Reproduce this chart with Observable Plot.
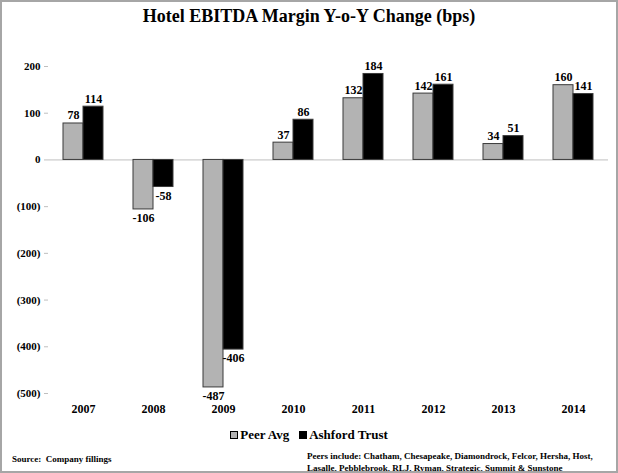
<!DOCTYPE html>
<html><head><meta charset="utf-8">
<script src="https://cdn.jsdelivr.net/npm/d3@7"></script>
<script src="https://cdn.jsdelivr.net/npm/@observablehq/plot@0.6"></script>
<style>
body{margin:0;background:#fff;}
#wrap{position:relative;width:618px;height:473px;overflow:hidden;font-family:"Liberation Serif","Times New Roman",serif;font-weight:bold;color:#000;}
#border{position:absolute;left:0;top:0;width:618px;height:473px;box-sizing:border-box;border:2px solid #a6a6a6;pointer-events:none;}
#title{position:absolute;top:6px;left:0;width:618px;text-align:center;font-size:18px;}
#chart{position:absolute;top:40px;left:0;}
#legend{position:absolute;top:427px;left:0;width:618px;text-align:center;font-size:13px;}
.sw{display:inline-block;width:8px;height:8px;box-sizing:border-box;margin-right:2px;vertical-align:0px;}
#source{position:absolute;left:12px;top:454px;font-size:9px;}
#peers{position:absolute;left:307px;top:450px;font-size:9px;line-height:12px;}
</style></head>
<body>
<div id="wrap">
  <div id="title">Hotel EBITDA Margin Y-o-Y Change (bps)</div>
  <div id="chart"></div>
  <div id="legend"></div>
  <div id="source">Source:&nbsp; Company fillings</div>
  <div id="peers">Peers include: Chatham, Chesapeake, Diamondrock, Felcor, Hersha, Host,<br>Lasalle, Pebblebrook, RLJ, Ryman, Strategic, Summit &amp; Sunstone</div>
  <div id="border"></div>
</div>
<script>
const years = ["2007","2008","2009","2010","2011","2012","2013","2014"];
const peerAvg = [78, -106, -487, 37, 132, 142, 34, 160];
const ashford = [114, -58, -406, 86, 184, 161, 51, 141];
const seriesNames = ["Peer Avg", "Ashford Trust"];
const seriesColors = ["#b3b3b3", "#000000"];
const yTicks = [-500, -400, -300, -200, -100, 0, 100, 200];

const data = years.flatMap((y, i) => [
  {year: y, series: seriesNames[0], value: peerAvg[i]},
  {year: y, series: seriesNames[1], value: ashford[i]}
]);

const chart = Plot.plot({
  width: 618, height: 378,
  marginLeft: 48, marginRight: 10, marginTop: 26, marginBottom: 25,
  style: {fontFamily: "'Liberation Serif','Times New Roman',serif", fontWeight: "bold", fontSize: "11px", color: "#000", background: "transparent"},
  fx: {domain: years, padding: 0, label: null},
  x: {domain: seriesNames, paddingInner: 0, paddingOuter: 0.75, axis: null},
  y: {domain: [-500, 200], label: null},
  color: {domain: seriesNames, range: seriesColors},
  marks: [
    Plot.axisY({ticks: yTicks, tickFormat: d => d < 0 ? `(${-d})` : `${d}`, tickSize: 4, tickPadding: 4, stroke: "#bfbfbf", fill: "#000", line: true, label: null, fontSize: 11}),
    Plot.axisFx({anchor: "bottom", tickSize: 0, tickPadding: 11, label: null, fontSize: 12, fill: "#000"}),
    Plot.ruleY([0], {stroke: "#bfbfbf"}),
    Plot.barY(data, {fx: "year", x: "series", y: "value", fill: "series", stroke: "#3a3a3a", strokeWidth: 1}),
    Plot.text(data.filter(d => d.value >= 0), {fx: "year", x: "series", y: "value", text: d => `${d.value}`, dy: -4, lineAnchor: "bottom", fontSize: 12, fill: "#000"}),
    Plot.text(data.filter(d => d.value < 0), {fx: "year", x: "series", y: "value", text: d => `${d.value}`, dy: 4, lineAnchor: "top", fontSize: 12, fill: "#000"})
  ]
});
document.getElementById("chart").appendChild(chart);

const legend = document.getElementById("legend");
seriesNames.forEach((name, i) => {
  const item = document.createElement("span");
  item.style.marginRight = i === 0 ? "10px" : "0";
  const sw = document.createElement("span");
  sw.className = "sw";
  sw.style.background = seriesColors[i];
  sw.style.border = "1.5px solid #000";
  item.appendChild(sw);
  item.appendChild(document.createTextNode(name));
  legend.appendChild(item);
});
</script>
</body></html>
